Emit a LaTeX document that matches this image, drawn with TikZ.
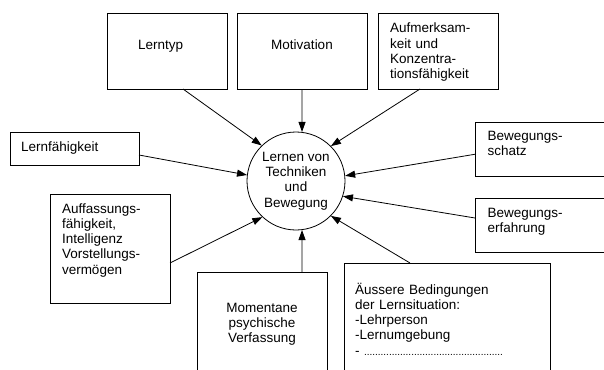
\documentclass[tikz,border=0pt]{standalone}
\usepackage{fontspec}
\setmainfont{Liberation Sans}
\usetikzlibrary{arrows.meta}

\tikzset{
  kasten/.style={draw, line width=1pt, anchor=north west, inner ysep=0pt, outer sep=0pt,
    align=left, font=\fontsize{13.5}{15.3}\selectfont},
  pfeil/.style={-{Triangle[length=10pt,width=7pt]}, line width=0.8pt},
}

\begin{document}
\begin{tikzpicture}[x=1pt, y=-1pt]
         \useasboundingbox (0,0) rectangle (604,369);
         \clip (0,0) rectangle (604,369);
         %nodes
         \node[kasten, inner xsep=31pt, text width=58pt, text height=35.5pt, text depth=39.5pt] at (107,14) (lerntyp) {Lerntyp};
         \node[kasten, align=center, inner xsep=5pt, text width=120pt, text height=35.5pt, text depth=39.5pt] at (237,14) (motivation) {Motivation};
         \node[kasten, inner xsep=12pt, text width=96pt, text height=19pt, text depth=56pt] at (378,14) (aufmerksamkeit) {Aufmerksam-\\keit und\\Konzentra-\\tionsfähigkeit};
         \node[kasten, inner xsep=11pt, text width=107pt, text height=19.5pt, text depth=13.5pt] at (10,132) (lernfaehigkeit) {Lernfähigkeit};
         \node[kasten, inner xsep=12.5pt, text width=110pt, text height=17.5pt, text depth=36pt] at (475,122.5) (schatz) {Bewegungs-\\schatz};
         \node[kasten, inner xsep=12.5pt, text width=110pt, text height=19.5pt, text depth=34.5pt] at (475,198) (erfahrung) {Bewegungs-\\erfahrung};
         \node[kasten, inner xsep=12pt, text width=96pt, text height=19pt, text depth=90pt] at (50,194) (auffassung) {Auffassungs-\\fähigkeit,\\Intelligenz\\Vorstellungs-\\vermögen};
         \node[kasten, align=center, inner xsep=5pt, text width=120pt, text height=40.3pt, text depth=70pt] at (197,272) (momentane) {Momentane\\psychische\\Verfassung};
         \node[kasten, inner xsep=11pt, text width=184pt, text height=31pt, text depth=90pt] at (344,263) (aeussere) {Äussere Bedingungen\\der Lernsituation:\\-Lehrperson\\-Lernumgebung\\- {\fontsize{10}{10}\selectfont ..................................................}};
         \node[draw, circle, line width=0.8pt, minimum size=98pt, inner sep=0pt, align=center,
           font=\fontsize{13.5}{15.3}\selectfont] at (296,181) (lernen) {Lernen von\\Techniken\\und\\Bewegung};
         % arrows into the circle
         \draw[pfeil] ([xshift=16pt]lerntyp.south) -- (lernen.134);
         \draw[pfeil] (motivation.south) -- (lernen.83);
         \draw[pfeil] ([xshift=-18pt]aufmerksamkeit.south) -- (lernen.45);
         \draw[pfeil] ([yshift=-6.5pt]lernfaehigkeit.east) -- (lernen.173);
         \draw[pfeil] ([yshift=-5pt]schatz.west) -- (lernen.6);
         \draw[pfeil] ([yshift=7pt]erfahrung.west) -- (lernen.-18);
         \draw[pfeil] ([yshift=-14.5pt]auffassung.east) -- (lernen.-133);
         \draw[pfeil] ([xshift=40pt]momentane.north) -- (lernen.-83);
         \draw[pfeil] ([xshift=-37pt]aeussere.north) -- (lernen.-45);
\end{tikzpicture}
\end{document}
